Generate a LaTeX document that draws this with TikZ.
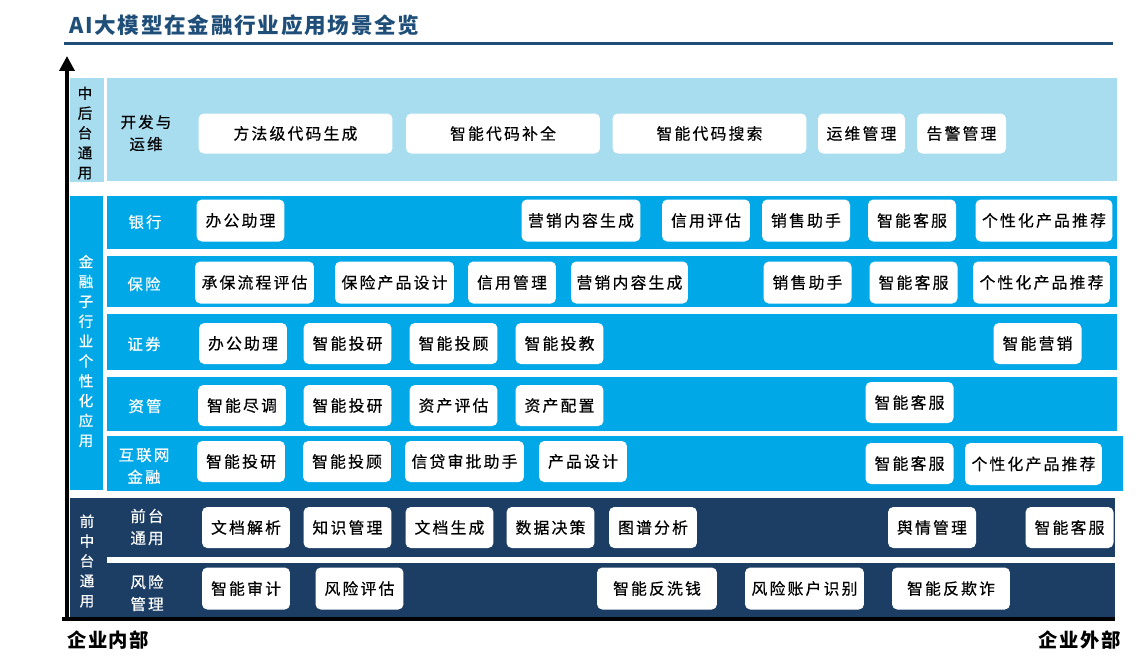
\documentclass[tikz,border=0pt]{standalone}
\usepackage{fontspec}
\setmainfont{Noto Sans CJK SC}[LetterSpace=8]
\newfontfamily\cardfont{Noto Sans CJK SC}[LetterSpace=14, FakeBold=0.5]
\usetikzlibrary{positioning, arrows.meta}
\definecolor{titleblue}{HTML}{1F4E79}
\definecolor{paleblue}{HTML}{A8DCEF}
\definecolor{skyblue}{HTML}{00A8E8}
\definecolor{navy}{HTML}{1C3E64}
\tikzset{
    card/.style={rectangle, rounded corners=3pt, fill=white, text=black, inner sep=0pt, minimum width=1.76cm, minimum height=0.84cm, font=\cardfont\fontsize{9}{11}\selectfont},
    wide card/.style={card, minimum width=2.38cm},
    long card/.style={card, minimum width=2.74cm},
    dev card/.style={card, minimum width=3.88cm, minimum height=0.8cm},
    row label/.style={align=center, text=white, font=\cardfont\fontsize{8.8}{12.5}\selectfont},
    side label/.style={align=center, text=white, font=\cardfont\fontsize{8.3}{11.3}\selectfont},
    headline/.style={text=titleblue, font=\bfseries\fontsize{12.3}{14}\selectfont},
    axis label/.style={font=\bfseries\fontsize{11}{13}\selectfont},
}
\begin{document}
\begin{tikzpicture}[x=0.02cm, y=-0.02cm]
\useasboundingbox (0,0) rectangle (1143,657);
% title
\node[headline, anchor=west] (title) at (63,25) {AI大模型在金融行业应用场景全览};
\draw[titleblue, line width=1.7pt] (64,43) -- (1113,43);

% panels
\fill[paleblue] (70,78) rectangle (104,182);
\fill[paleblue] (107,78) rectangle (1117,181);
\fill[skyblue] (70,196) rectangle (103,490);
\fill[skyblue] (107,196) rectangle (1117,249);
\fill[skyblue] (107,256) rectangle (1117,307);
\fill[skyblue] (107,314) rectangle (1117,370);
\fill[skyblue] (107,377) rectangle (1117,431);
\fill[skyblue] (107,436) rectangle (1123,491);
\fill[navy] (70,498) rectangle (1115,618);
\fill[white] (107,557) rectangle (1115,563);

% side labels
\node[side label, text=black] (mid) at (85,133) {中\\后\\台\\通\\用};
\node[side label] (fin) at (86,351) {金\\融\\子\\行\\业\\个\\性\\化\\应\\用};
\node[side label] (front) at (87,561) {前\\中\\台\\通\\用};

% row labels
\node[row label, text=black] (devops) at (146,133) {开发与\\运维};
\node[row label] (bank) at (145,222) {银行};
\node[row label] (insur) at (144,284) {保险};
\node[row label] (secur) at (144,344) {证券};
\node[row label] (asset) at (145,406) {资管};
\node[row label] (inet) at (144,466) {互联网\\金融};
\node[row label] (fdesk) at (147,527) {前台\\通用};
\node[row label] (risk) at (147,593) {风险\\管理};

% 开发与运维
\node[dev card] (dv1) at (295.5,133.5) {方法级代码生成};
\node[dev card] (dv2) at (503,133.5) {智能代码补全};
\node[dev card] (dv3) at (709.5,133.5) {智能代码搜索};
\node[dev card, minimum width=1.74cm] (dv4) at (861.5,133.5) {运维管理};
\node[dev card, minimum width=1.78cm] (dv5) at (961.5,133.5) {告警管理};

% 银行
\node[card] (bk1) at (240.5,220.5) {办公助理};
\node[wide card] (bk2) at (581,220.5) {营销内容生成};
\node[card] (bk3) at (706,220.5) {信用评估};
\node[card] (bk4) at (806,220.5) {销售助手};
\node[card] (bk5) at (912,220.5) {智能客服};
\node[long card] (bk6) at (1044,220.5) {个性化产品推荐};

% 保险
\node[wide card] (bx1) at (254.5,282.5) {承保流程评估};
\node[wide card] (bx2) at (394.5,282.5) {保险产品设计};
\node[card] (bx3) at (512,282.5) {信用管理};
\node[wide card, minimum width=2.34cm] (bx4) at (629.5,282.5) {营销内容生成};
\node[card] (bx5) at (807.5,282.5) {销售助手};
\node[card] (bx6) at (913.5,282.5) {智能客服};
\node[long card] (bx7) at (1041.5,282.5) {个性化产品推荐};

% 证券
\node[card, minimum height=0.82cm] (zq1) at (243,343.5) {办公助理};
\node[card, minimum height=0.82cm] (zq2) at (347.5,343.5) {智能投研};
\node[card, minimum height=0.82cm] (zq3) at (453.5,343.5) {智能投顾};
\node[card, minimum height=0.82cm] (zq4) at (559.5,343.5) {智能投教};
\node[card, minimum height=0.82cm] (zq5) at (1037.5,343.5) {智能营销};

% 资管
\node[card, minimum height=0.82cm] (zg1) at (242,405.5) {智能尽调};
\node[card, minimum height=0.82cm] (zg2) at (347.5,405.5) {智能投研};
\node[card, minimum height=0.82cm] (zg3) at (453.5,405.5) {资产评估};
\node[card, minimum height=0.82cm] (zg4) at (559.5,405.5) {资产配置};
\node[card, minimum height=0.82cm] (zg5) at (909.5,402.5) {智能客服};

% 互联网金融
\node[card, minimum height=0.82cm] (hl1) at (241,461.5) {智能投研};
\node[card, minimum height=0.82cm] (hl2) at (347,461.5) {智能投顾};
\node[wide card, minimum height=0.82cm] (hl3) at (464.5,461.5) {信贷审批助手};
\node[card, minimum height=0.82cm] (hl4) at (583,461.5) {产品设计};
\node[card, minimum height=0.82cm] (hl5) at (909.5,463.5) {智能客服};
\node[long card] (hl6) at (1033.5,464) {个性化产品推荐};

% 前台通用
\node[card, minimum height=0.82cm] (qt1) at (246,527.5) {文档解析};
\node[card, minimum height=0.82cm] (qt2) at (347.5,527.5) {知识管理};
\node[card, minimum height=0.82cm] (qt3) at (449.5,527.5) {文档生成};
\node[card, minimum height=0.82cm] (qt4) at (550.5,527.5) {数据决策};
\node[card, minimum height=0.82cm] (qt5) at (653,527.5) {图谱分析};
\node[card, minimum height=0.82cm] (qt6) at (932,527.5) {舆情管理};
\node[card, minimum height=0.82cm] (qt7) at (1069.5,527.5) {智能客服};

% 风险管理
\node[card] (fx1) at (246,588.5) {智能审计};
\node[card] (fx2) at (359.5,588.5) {风险评估};
\node[wide card, minimum width=2.4cm] (fx3) at (657,588.5) {智能反洗钱};
\node[wide card] (fx4) at (804.5,588.5) {风险账户识别};
\node[wide card, minimum width=2.36cm] (fx5) at (951,588.5) {智能反欺诈};

% axes
\coordinate (origin) at (67,619);
\coordinate (ytop) at (67,56);
\coordinate (xstart) at (62,619);
\coordinate (xend) at (1115,619);
\draw[line width=2pt] (xstart) -- (xend);
\draw[line width=2pt, -{Triangle[length=8.5pt, width=8.5pt]}] (origin) -- (ytop);
\node[axis label, anchor=west] (inner) at (61,640) {企业内部};
\node[axis label, anchor=east] (outer) at (1127,640) {企业外部};
\end{tikzpicture}
\end{document}
